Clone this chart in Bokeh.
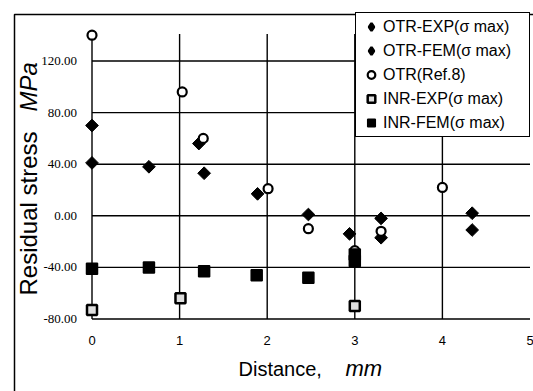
import math
from bokeh.plotting import figure
from bokeh.models import Range1d, Legend, LegendItem, Label, BoxAnnotation
from bokeh.core.properties import value
from bokeh.embed import file_html
from bokeh.resources import INLINE

# ---- data (distance in mm, residual stress in MPa) ----
otr_exp_x = [0.0, 1.22, 1.89, 2.47, 2.94, 3.30, 4.34]
otr_exp_y = [70, 56, 17, 1, -14, -2, 2]
otr_fem_x = [0.0, 0.65, 1.28, 3.30, 4.34]
otr_fem_y = [41, 38, 33, -17, -11]
otr_ref_x = [0.0, 1.03, 1.27, 2.01, 2.47, 3.00, 3.30, 4.00]
otr_ref_y = [140, 96, 60, 21, -10, -27, -12, 22]
inr_exp_x = [0.0, 1.01, 3.00]
inr_exp_y = [-73, -64, -70]
inr_fem_x = [0.0, 0.65, 1.28, 1.88, 2.47, 3.00, 3.00]
inr_fem_y = [-41, -40, -43, -46, -48, -30, -35]

x_ticks = [0, 1, 2, 3, 4, 5]
x_tick_labels = ["0", "1", "2", "3", "4", "5"]
y_ticks = [-80, -40, 0, 40, 80, 120]
y_tick_labels = ["-80.00", "-40.00", "0.00", "40.00", "80.00", "120.00"]
y_top = 141
legend_labels = ["OTR-EXP(σ max)", "OTR-FEM(σ max)", "OTR(Ref.8)", "INR-EXP(σ max)", "INR-FEM(σ max)"]

# ---- layout (pixels) ----
W, H = 533, 391
X0_PX, X_SCALE = 91.5, 87.6     # pixel of x=0, pixels per mm
Y0_PX, Y_SCALE = 215.3, 1.29    # pixel of y=0, pixels per MPa

p = figure(width=W, height=H, output_backend="svg", toolbar_location=None,
           x_range=Range1d(-X0_PX / X_SCALE, (W - X0_PX) / X_SCALE),
           y_range=Range1d((Y0_PX - H) / Y_SCALE, Y0_PX / Y_SCALE),
           x_axis_location=None, y_axis_location=None,
           min_border=0, min_border_left=0, min_border_right=0,
           min_border_top=0, min_border_bottom=0)
p.outline_line_color = None
p.background_fill_color = "white"
p.border_fill_color = "white"
p.xgrid.grid_line_color = None
p.ygrid.grid_line_color = None

# grid lines from the tick arrays
p.segment(x0=[x_ticks[0]] * len(y_ticks), x1=[x_ticks[-1]] * len(y_ticks),
          y0=y_ticks, y1=y_ticks, line_color="black", line_width=1.4)
p.segment(x0=x_ticks[:-1], x1=x_ticks[:-1], y0=[y_ticks[0]] * (len(x_ticks) - 1),
          y1=[y_top] * (len(x_ticks) - 1), line_color="black", line_width=1.4)

# tick labels
p.text(x=[x_ticks[0]] * len(y_ticks), y=y_ticks, text=y_tick_labels, x_offset=-15,
       text_align="right", text_baseline="middle", text_color="black",
       text_font=value("Liberation Serif"), text_font_size=value("13px"))
p.text(x=x_ticks, y=[y_ticks[0]] * len(x_ticks), text=x_tick_labels, y_offset=21,
       text_align="center", text_baseline="middle", text_color="black",
       text_font=value("Liberation Sans"), text_font_size=value("13px"))

# legend key glyphs (diamonds), drawn underneath the plotted diamonds
k1 = p.scatter(otr_exp_x, otr_exp_y, marker="diamond", size=8, fill_color="black",
               line_color="black", line_width=2.5)
k2 = p.scatter(otr_fem_x, otr_fem_y, marker="diamond", size=8, fill_color="black",
               line_color="black", line_width=2.5)

# data marks
r1 = p.scatter(otr_exp_x, otr_exp_y, marker="square", angle=math.pi / 4, size=9,
               fill_color="black", line_color="black")
r2 = p.scatter(otr_fem_x, otr_fem_y, marker="square", angle=math.pi / 4, size=9,
               fill_color="black", line_color="black")
r3 = p.scatter(otr_ref_x, otr_ref_y, marker="circle", size=9,
               fill_color="white", line_color="black", line_width=2.2)
r4 = p.scatter(inr_exp_x, inr_exp_y, marker="square", size=10,
               fill_color="#dedede", line_color="black", line_width=2.5)
r5 = p.scatter(inr_fem_x, inr_fem_y, marker="square", size=11,
               fill_color="black", line_color="black", line_width=1.5)

legend = Legend(items=[LegendItem(label=l, renderers=[r]) for l, r in
                       zip(legend_labels, [k1, k2, r3, r4, r5])],
                location=(355, H - 137))
legend.label_text_font = "Liberation Sans"
legend.label_text_font_size = "16px"
legend.label_text_color = "black"
legend.glyph_width = 22
legend.glyph_height = 19
legend.label_height = 19
legend.label_width = 142
legend.label_standoff = 1
legend.spacing = 5
legend.padding = 4
legend.margin = 0
legend.border_line_color = "black"
legend.border_line_width = 1.5
legend.border_line_alpha = 1.0
legend.background_fill_alpha = 1.0
p.add_layout(legend)

# axis titles (screen units: from the bottom-left corner)
common = dict(x_units="screen", y_units="screen", text_font="Liberation Sans",
              text_color="black", text_align="left", text_baseline="alphabetic")
p.add_layout(Label(x=28, y=H - 295, text="Residual stress ", angle=math.pi / 2,
                   text_font_size="24px", **common))
p.add_layout(Label(x=28, y=H - 111, text="MPa", angle=math.pi / 2,
                   text_font_size="24px", text_font_style="italic", **common))
p.add_layout(Label(x=238, y=H - 368, text="Distance,", text_font_size="20px", **common))
p.add_layout(Label(x=345, y=H - 368, text="mm", text_font_size="22px",
                   text_font_style="italic", **common))

# outer frame of the figure
p.add_layout(BoxAnnotation(left=14, right=W + 20, top=H - 14, bottom=-20,
                           left_units="screen", right_units="screen",
                           top_units="screen", bottom_units="screen",
                           fill_alpha=0, line_color="black", line_alpha=1.0, line_width=1.5))

open("out.html", "w").write(file_html(p, INLINE))
